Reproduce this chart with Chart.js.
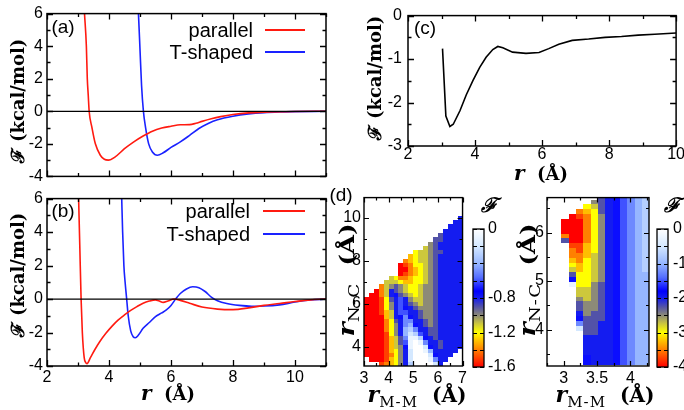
<!DOCTYPE html>
<html>
<head>
<meta charset="utf-8">
<script src="https://cdn.jsdelivr.net/npm/chart.js@4.4.0/dist/chart.umd.min.js"></script>
<style>
html,body{margin:0;padding:0;background:#fff;}
#wrap{position:relative;width:684px;height:410px;overflow:hidden;background:#fff;}
#wrap canvas{position:absolute;}
.t{position:absolute;white-space:nowrap;transform:translate(-50%,-50%);line-height:1;color:#000;}
.rot{transform:translate(-50%,-50%) rotate(-90deg);}
.rot2{transform:translate(-50%,-50%) rotate(-90deg) scaleX(1.22);}
.ax{font-family:"DejaVu Serif",serif;font-weight:bold;font-size:18px;}
.ax i{font-size:20px;}
.hm{font-family:"DejaVu Serif",serif;font-weight:bold;font-size:20px;}
.hm i{font-size:22px;}
.hm sub{font-weight:normal;font-size:15px;letter-spacing:1px;vertical-align:-5px;}
.lab{font-family:"Liberation Sans",Arial,sans-serif;font-size:19px;}
.leg{position:absolute;font-family:"Liberation Sans",Arial,sans-serif;font-size:20px;line-height:1;white-space:nowrap;transform:translate(-100%,-50%);}
.legline{position:absolute;height:2px;transform:translateY(-50%);}
</style>
</head>
<body>
<div id="wrap">
  <canvas id="cA" width="340" height="190" style="left:0;top:0"></canvas>
  <canvas id="cB" width="340" height="205" style="left:0;top:185px"></canvas>
  <canvas id="cC" width="324" height="170" style="left:360px;top:0"></canvas>
  <canvas id="cH1" width="130" height="225" style="left:340px;top:185px"></canvas>
  <canvas id="cCB1" width="60" height="225" style="left:470px;top:185px"></canvas>
  <canvas id="cH2" width="134" height="225" style="left:520px;top:185px"></canvas>
  <canvas id="cCB2" width="45" height="225" style="left:653px;top:185px"></canvas>

  <div class="t rot ax" style="left:18px;top:101px">ℱ (kcal/mol)</div>
  <div class="t rot ax" style="left:18px;top:275px">ℱ (kcal/mol)</div>
  <div class="t ax" style="left:168px;top:393px"><i>r</i>&nbsp;&nbsp;(Å)</div>
  <div class="t rot ax" style="left:375px;top:78px">ℱ (kcal/mol)</div>
  <div class="t ax" style="left:541px;top:173px"><i>r</i>&nbsp;&nbsp;(Å)</div>
  <div class="t rot2 hm" style="left:348px;top:280px"><i>r</i><sub>N-C</sub>&nbsp;&nbsp;(Å)</div>
  <div class="t hm" style="left:417px;top:396px"><i>r</i><sub>M-M</sub>&nbsp;&nbsp;(Å)</div>
  <div class="t rot2 hm" style="left:529px;top:280px"><i>r</i><sub>N-C</sub>&nbsp;&nbsp;(Å)</div>
  <div class="t hm" style="left:605px;top:396px"><i>r</i><sub>M-M</sub>&nbsp;&nbsp;(Å)</div>
  <div class="t ax" style="left:489px;top:205px"><i>ℱ</i></div>
  <div class="t ax" style="left:672px;top:205px"><i>ℱ</i></div>

  <div class="t lab" style="left:63px;top:26px">(a)</div>
  <div class="t lab" style="left:63px;top:210px">(b)</div>
  <div class="t lab" style="left:425px;top:27px">(c)</div>
  <div class="t lab" style="left:341px;top:194px">(d)</div>
</div>

<script>
// ---- data ----
// (a)
const aParR = [3.21,3.27,3.3,3.33,3.36,3.45,3.56,3.72,3.85,3.98,4.2,4.5,4.8,5.1,5.4,5.7,6.0,6.3,6.6,6.8,7.0,7.3,7.6,8.0,8.5,9.0,10.0,11.0];
const aParF = [6,4,2,1,0,-1.0,-2.0,-2.7,-2.95,-3.0,-2.8,-2.3,-1.88,-1.52,-1.22,-1.03,-0.92,-0.83,-0.82,-0.74,-0.62,-0.46,-0.33,-0.2,-0.1,-0.05,-0.01,0];
const aTR = [4.95,5.0,5.05,5.11,5.18,5.28,5.4,5.56,5.75,6.0,6.3,6.6,6.9,7.2,7.5,8.0,8.5,9.0,9.5,10.0,11.0];
const aTF = [6,3.8,1.6,0,-1.0,-2.0,-2.5,-2.7,-2.55,-2.22,-1.88,-1.48,-1.06,-0.75,-0.52,-0.3,-0.16,-0.08,-0.04,-0.02,0];

// (b)
const bParR = [3.02,3.06,3.1,3.14,3.2,3.25,3.29,3.4,3.55,3.7,3.9,4.1,4.3,4.5,4.7,4.9,5.1,5.3,5.5,5.6,5.75,5.9,6.1,6.3,6.6,7.0,7.5,8.0,8.5,9.0,9.5,10.0,10.5,11.0];
const bParF = [6,3,0,-2,-3.5,-3.8,-3.86,-3.5,-3.0,-2.55,-2.05,-1.62,-1.25,-0.95,-0.68,-0.45,-0.25,-0.12,-0.05,-0.1,-0.2,-0.12,0,-0.08,-0.25,-0.48,-0.6,-0.63,-0.53,-0.38,-0.27,-0.15,-0.05,0];
const bTR = [4.41,4.44,4.48,4.52,4.57,4.62,4.7,4.78,4.85,4.95,5.1,5.3,5.5,5.7,5.85,6.0,6.15,6.3,6.5,6.7,6.9,7.1,7.3,7.5,7.8,8.2,8.6,9.0,9.5,10.0,10.5,11.0];
const bTF = [6,4,2,1,0,-1,-1.9,-2.25,-2.31,-2.15,-1.75,-1.4,-1.05,-0.83,-0.65,-0.38,0,0.33,0.6,0.73,0.68,0.45,0.12,-0.1,-0.27,-0.38,-0.43,-0.42,-0.35,-0.18,-0.06,0];

// (c)
const cR = [3.03,3.13,3.25,3.35,3.55,3.74,3.94,4.14,4.33,4.53,4.68,4.83,5.12,5.52,5.91,6.2,6.5,6.9,7.39,7.88,8.37,8.87,9.36,10.0];
const cF = [-0.76,-2.31,-2.55,-2.5,-2.19,-1.82,-1.49,-1.19,-0.96,-0.78,-0.71,-0.74,-0.84,-0.87,-0.85,-0.76,-0.66,-0.57,-0.54,-0.5,-0.48,-0.45,-0.43,-0.4];

// (d) maps: one char per cell, '.' = no data, level 0..g -> F = -level*step
const LEVELS = '0123456789abcdefg';
const hm1Step = 0.1;
const hm1X = [3.1,3.3,3.5,3.7,3.9,4.1,4.3,4.5,4.7,4.9,5.1,5.3,5.5,5.7,5.9,6.1,6.3,6.5,6.7,6.9];
const hm1Y = [10.0,9.8,9.6,9.4,9.2,9.0,8.8,8.6,8.4,8.2,8.0,7.8,7.6,7.4,7.2,7.0,6.8,6.6,6.4,6.2,6.0,5.8,5.6,5.4,5.2,5.0,4.8,4.6,4.4,4.2,4.0,3.8,3.6,3.4,3.2];
const hm1Rows = [
  "...................8",
  "..................88",
  ".................888",
  "................8888",
  "...............98888",
  "..............998888",
  ".............a988888",
  "............ba988888",
  "..........cbba998888",
  ".........dcbba988888",
  "........edcbba988888",
  ".......gfeccba988888",
  ".......ggedcba988888",
  ".......gfedcba988888",
  ".....bceedccba988888",
  "....bbbcddccba988888",
  "...eba9abccbaa988888",
  "..geb89abccbaa988888",
  ".ggeb879abcbaa988888",
  "gggfc9868abbaa988888",
  "gggfca8689abaa988888",
  "gggfca86789aaa988888",
  "gggfdb866889aa988888",
  "ggggdb875789aa988888",
  "ggggec9855889a988888",
  "ggggeca854789a988888",
  "ggggeca8435889988888",
  "ggggfca8423689988888",
  "ggggfdb9511378988888",
  "ggggfdb9610158898888",
  "ggggfdba710027898888",
  "ggggfdca82001488888.",
  "ggggfeca8200027888..",
  ".gggfdca820001588...",
  "...fedca83000028...."
];

const hm2Step = 0.25;
const hm2X = [3.02,3.13,3.24,3.35,3.46,3.57,3.68,3.79,3.90,4.01,4.12,4.23];
const hm2Y = [6.73,6.63,6.53,6.43,6.33,6.23,6.13,6.03,5.93,5.83,5.73,5.63,5.53,5.43,5.33,5.23,5.13,5.03,4.93,4.83,4.73,4.63,4.53,4.43,4.33,4.23,4.13,4.03,3.93,3.83,3.73,3.63,3.53,3.43,3.33];
const hm2Rows = [
  ".....9876543",
  "....a9876543",
  "...cb9876543",
  "..edc9876543",
  ".gfeca876543",
  "gggeca876543",
  "gggeca876543",
  "gggeca876543",
  "eggeca876543",
  "9ggeca876543",
  ".ffdca876543",
  ".efdca876543",
  ".eedba876543",
  ".decba876543",
  ".cdcba876543",
  ".bdcba876543",
  ".9ccba876544",
  ".7ccba876544",
  ".1cca9876544",
  "..bba9876544",
  "..bba9876544",
  "..aba9876544",
  "..9aa9876544",
  "..9aa9876544",
  "..8a99876544",
  "..7999876544",
  "..5998876544",
  "..2998876544",
  "..0998876544",
  "...888876544",
  "...888876544",
  "...888876544",
  "...888876544",
  "...788876544",
  "...788876544"
];

// tick labels
const lineTicksX = [2,4,6,8,10];
const lineTicksY = [-4,-2,0,2,4,6];
const cTicksX = [2,4,6,8,10];
const cTicksY = [-3,-2,-1,0];
const hm1TicksX = [3,4,5,6,7];
const hm1TicksY = [4,6,8,10];
const hm2TicksX = [3,3.5,4];
const hm2TicksY = [4,5,6];
const cb1Ticks = [0,-0.8,-1.2,-1.6];
const cb2Ticks = [0,-1,-2,-3,-4];

// ---- colour map (0 = white ... 1 = red) ----
const CMAP = [
  [0,[255,255,255]],[0.125,[212,232,255]],[0.25,[150,182,255]],[0.35,[85,110,255]],
  [0.45,[0,0,255]],[0.5,[20,28,240]],[0.5625,[82,82,168]],[0.625,[140,138,120]],
  [0.6875,[205,200,60]],[0.75,[255,255,0]],[0.8125,[255,190,0]],[0.875,[255,128,0]],
  [0.9375,[255,64,0]],[1,[255,0,0]]
];
function cmap(t){
  t = Math.max(0, Math.min(1, t));
  for(let k=1;k<CMAP.length;k++){
    const [t1,c1] = CMAP[k];
    if(t <= t1){
      const [t0,c0] = CMAP[k-1];
      const f = (t-t0)/(t1-t0);
      return 'rgb(' + c0.map((c,i)=>Math.round(c+(c1[i]-c)*f)).join(',') + ')';
    }
  }
  return 'rgb(255,0,0)';
}

// ---- plugins ----
const heatPlugin = {
  id:'heat',
  beforeDatasetsDraw(chart, args, o){
    const {ctx, chartArea:a, scales} = chart;
    if(o.vmin !== undefined){
      const y = scales.y;
      const g = ctx.createLinearGradient(0, y.getPixelForValue(0), 0, y.getPixelForValue(o.vmin));
      CMAP.forEach(([t,c])=>g.addColorStop(t,'rgb('+c.join(',')+')'));
      ctx.save(); ctx.fillStyle = g; ctx.fillRect(a.left, a.top, a.width, a.height); ctx.restore();
    }
    chart.data.datasets.forEach(ds=>{
      if(!ds.cells) return;
      ctx.save();
      ctx.beginPath(); ctx.rect(a.left, a.top, a.width, a.height); ctx.clip();
      ds.data.forEach(p=>{
        const x0 = Math.round(scales.x.getPixelForValue(p.x - ds.cellW/2));
        const x1 = Math.round(scales.x.getPixelForValue(p.x + ds.cellW/2));
        const y0 = Math.round(scales.y.getPixelForValue(p.y + ds.cellH/2));
        const y1 = Math.round(scales.y.getPixelForValue(p.y - ds.cellH/2));
        ctx.fillStyle = cmap(p.v/ds.vmin);
        ctx.fillRect(x0, y0, x1-x0, y1-y0);
      });
      ctx.restore();
    });
  }
};

const framePlugin = {
  id:'frame',
  afterDraw(chart, args, o){
    if(!o.lw) return;
    const {ctx, chartArea:a} = chart;
    const marks = (scale, c)=>{
      const out = scale.ticks.map(t=>[t.value, c.len]);
      if(c.minor){
        for(let k=Math.ceil(scale.min/c.minor-1e-6); k*c.minor <= scale.max+1e-6; k++){
          const v = k*c.minor;
          if(!out.some(m=>Math.abs(m[0]-v)<1e-6)) out.push([v, c.minorLen]);
        }
      }
      return out;
    };
    ctx.save();
    ctx.strokeStyle = '#000'; ctx.lineWidth = o.lw;
    ctx.beginPath();
    if(o.x){
      marks(chart.scales.x, o.x).forEach(([v,l])=>{
        const p = Math.round(chart.scales.x.getPixelForValue(v)) + 0.5;
        ctx.moveTo(p, a.bottom); ctx.lineTo(p, a.bottom-l);
        ctx.moveTo(p, a.top); ctx.lineTo(p, a.top+l);
      });
    }
    if(o.y){
      marks(chart.scales.y, o.y).forEach(([v,l])=>{
        const p = Math.round(chart.scales.y.getPixelForValue(v)) + 0.5;
        ctx.moveTo(a.left, p); ctx.lineTo(a.left+l, p);
        ctx.moveTo(a.right, p); ctx.lineTo(a.right-l, p);
      });
    }
    ctx.stroke();
    ctx.lineWidth = o.lw + 0.2;
    ctx.strokeRect(a.left, a.top, a.width, a.height);
    ctx.restore();
  }
};

Chart.register(heatPlugin, framePlugin);
Chart.defaults.font.family = '"Liberation Sans", Arial, sans-serif';
Chart.defaults.font.size = 16;
Chart.defaults.color = '#000';

function axis(opt){
  return {
    type:'linear', min:opt.min, max:opt.max, position:opt.position,
    grid:{display:false, drawTicks:false}, border:{display:false},
    ticks:{display:opt.labels !== false, padding:opt.pad ?? 3, autoSkip:false, maxRotation:0, callback:v=>String(v)},
    afterBuildTicks:s=>{ s.ticks = opt.ticks.slice().sort((p,q)=>p-q).map(v=>({value:v})); },
    afterFit:s=>{ if(opt.horiz) s.height = opt.size; else s.width = opt.size; }
  };
}
const pts = (xs, ys)=>xs.map((x,i)=>({x, y:ys[i]}));
const line = (label, xs, ys, color, tension)=>({
  label, data:pts(xs, ys), borderColor:color, borderWidth:1.6, showLine:true,
  pointRadius:0, tension:tension, cubicInterpolationMode: tension ? 'monotone' : 'default'
});
const zeroLine = (xmin, xmax)=>({label:'', data:[{x:xmin,y:0},{x:xmax,y:0}], borderColor:'#000', borderWidth:1.3, showLine:true, pointRadius:0});
function heatPoints(xs, ys, rows, step){
  const out = [];
  rows.forEach((row,j)=>{
    [...row].forEach((ch,i)=>{
      const L = LEVELS.indexOf(ch);
      if(L >= 0) out.push({x:xs[i], y:ys[j], v:-L*step});
    });
  });
  return out;
}
const base = (padding)=>({
  responsive:false, animation:false, devicePixelRatio:1, events:[],
  layout:{autoPadding:false, padding},
  plugins:{legend:{display:false}, tooltip:{enabled:false}}
});

function makeChart(id, datasets, scales, padding, frame, heat){
  const options = base(padding);
  options.scales = scales;
  options.plugins.frame = frame;
  if(heat) options.plugins.heat = heat;
  return new Chart(document.getElementById(id), {type:'scatter', data:{datasets}, options});
}

const RED = '#ff1a10', BLUE = '#1a22ff';
const lineFrame = {lw:1.3, x:{len:6, minor:1, minorLen:3.5}, y:{len:6, minor:1, minorLen:3.5}};

const chA = makeChart('cA', [
  zeroLine(2, 11),
  line('parallel', aParR, aParF, RED, 0.4),
  line('T-shaped', aTR, aTF, BLUE, 0.4)
], {
  x: axis({min:2, max:11, ticks:lineTicksX, horiz:true, size:7, labels:false}),
  y: axis({min:-4, max:6, ticks:lineTicksY, size:47, pad:4})
}, {left:0, top:12, right:14, bottom:0}, lineFrame);

const chB = makeChart('cB', [
  zeroLine(2, 11),
  line('parallel', bParR, bParF, RED, 0.4),
  line('T-shaped', bTR, bTF, BLUE, 0.4)
], {
  x: axis({min:2, max:11, ticks:lineTicksX, horiz:true, size:24, pad:2}),
  y: axis({min:-4, max:6, ticks:lineTicksY, size:47, pad:4})
}, {left:0, top:10, right:14, bottom:0}, lineFrame);

makeChart('cC', [
  line('', cR, cF, '#000', 0)
], {
  x: axis({min:2, max:10, ticks:cTicksX, horiz:true, size:24, pad:-1}),
  y: axis({min:-3, max:0, ticks:cTicksY, size:48, pad:6})
}, {left:0, top:12, right:6, bottom:0}, {lw:1.3, x:{len:6, minor:1, minorLen:3.5}, y:{len:6, minor:0.5, minorLen:3.5}});

makeChart('cH1', [
  {data:heatPoints(hm1X, hm1Y, hm1Rows, hm1Step), pointRadius:0, cells:true, vmin:-1.6,
    cellW:hm1X[1]-hm1X[0], cellH:hm1Y[0]-hm1Y[1]}
], {
  x: axis({min:3, max:7, ticks:hm1TicksX, horiz:true, size:44, pad:3}),
  y: axis({min:3.1, max:10.95, ticks:hm1TicksY, size:24, pad:3})
}, {left:0, top:9, right:4, bottom:0}, {lw:1.2, x:{len:5, minor:0.5, minorLen:3}, y:{len:5, minor:1, minorLen:3}});

makeChart('cCB1', [], {
  x: {display:false, min:0, max:1},
  y: Object.assign(axis({min:-1.6, max:0, ticks:cb1Ticks, size:46, pad:4}), {position:'right'})
}, {left:3, top:44, right:0, bottom:43}, {lw:1.1, y:{len:4, minor:0.2, minorLen:4}}, {vmin:-1.6});

makeChart('cH2', [
  {data:heatPoints(hm2X, hm2Y, hm2Rows, hm2Step), pointRadius:0, cells:true, vmin:-4,
    cellW:hm2X[1]-hm2X[0], cellH:hm2Y[0]-hm2Y[1]}
], {
  x: axis({min:2.75, max:4.28, ticks:hm2TicksX, horiz:true, size:44, pad:3}),
  y: axis({min:3.25, max:6.72, ticks:hm2TicksY, size:27, pad:3})
}, {left:0, top:9, right:5, bottom:0}, {lw:1.2, x:{len:5, minor:0.25, minorLen:3}, y:{len:5, minor:0.5, minorLen:3}});

makeChart('cCB2', [], {
  x: {display:false, min:0, max:1},
  y: Object.assign(axis({min:-4, max:0, ticks:cb2Ticks, size:30, pad:5}), {position:'right'})
}, {left:4, top:44, right:0, bottom:43}, {lw:1.1, y:{len:4, minor:0.5, minorLen:4}}, {vmin:-4});

// gnuplot-style key: label, then a short line sample to its right
function htmlLegend(chart, textRight, lineX0, lineX1, rowYs){
  const wrap = document.getElementById('wrap');
  chart.data.datasets.filter(d=>d.label).forEach((d,i)=>{
    const t = document.createElement('div');
    t.className = 'leg'; t.textContent = d.label;
    t.style.left = textRight + 'px'; t.style.top = rowYs[i] + 'px';
    wrap.appendChild(t);
    const l = document.createElement('div');
    l.className = 'legline'; l.style.background = d.borderColor;
    l.style.left = lineX0 + 'px'; l.style.width = (lineX1-lineX0) + 'px'; l.style.top = rowYs[i] + 'px';
    wrap.appendChild(l);
  });
}
htmlLegend(chA, 253, 265, 305, [30, 52]);
htmlLegend(chB, 250, 263, 305, [211, 234]);
</script>
</body>
</html>
